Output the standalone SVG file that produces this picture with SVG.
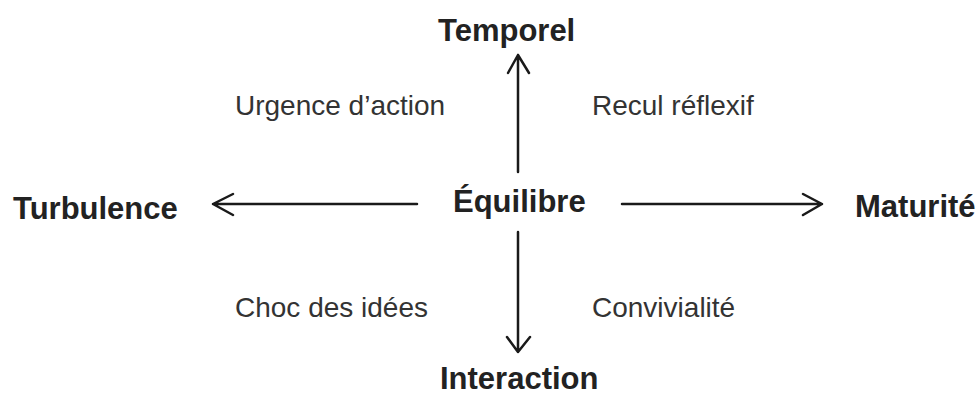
<svg xmlns="http://www.w3.org/2000/svg" width="978" height="397" viewBox="0 0 978 397">
<style>
.b{font-family:"Liberation Sans",Arial,sans-serif;font-weight:bold;font-size:31px;fill:#222}
.r{font-family:"Liberation Sans",Arial,sans-serif;font-size:28px;fill:#333}
.ln{stroke:#1a1a1a;stroke-width:2.5;fill:none;stroke-linecap:round;stroke-linejoin:round}
</style>
<rect width="978" height="397" fill="#fff"/>
<g id="connectors">
<path class="ln" d="M518 172V55M508 73L518 55L529 73"/>
<path class="ln" d="M518 232V352M507 337L518 352L530 337"/>
<path class="ln" d="M417 204H213M233 194L213 204L233 215"/>
<path class="ln" d="M622 204H822M803 194L822 204L803 215"/>
</g>
<g id="temporel"><text class="b" x="438" y="41">Temporel</text></g>
<g id="turbulence"><text class="b" x="13" y="219">Turbulence</text></g>
<g id="equilibre"><text class="b" x="453" y="212">Équilibre</text></g>
<g id="maturite"><text class="b" x="855" y="217">Maturité</text></g>
<g id="interaction"><text class="b" x="440" y="389">Interaction</text></g>
<g id="urgence"><text class="r" x="235" y="115">Urgence d’action</text></g>
<g id="recul"><text class="r" x="592" y="115">Recul réflexif</text></g>
<g id="choc"><text class="r" x="235" y="317">Choc des idées</text></g>
<g id="convivialite"><text class="r" x="592" y="317">Convivialité</text></g>
</svg>
